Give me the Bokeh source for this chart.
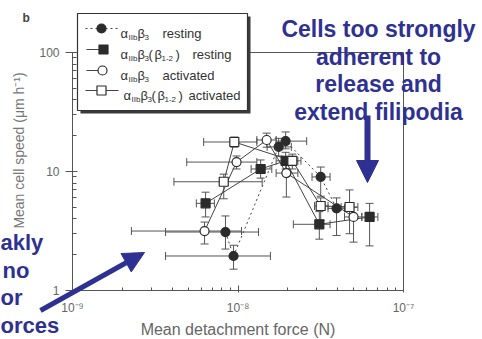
import math
from bokeh.plotting import figure
from bokeh.models import (ColumnDataSource, Whisker, TeeHead, Label, Arrow, NormalHead,
                          FixedTicker, CustomJSTickFormatter, Range1d)
from bokeh.embed import file_html
from bokeh.resources import INLINE

# ---------------- data ----------------
# alpha_IIb beta_3 resting (filled circles, dotted line)
r_force = [8.4e-9, 9.4e-9, 1.76e-8, 1.94e-8, 3.16e-8, 3.94e-8]
r_speed = [3.1, 1.95, 16.1, 18.0, 9.0, 4.9]
r_f_lo = [3.65e-9, 3.65e-9, 1.5e-8, 1.7e-8, 2.8e-8, 3.5e-8]
r_f_hi = [1.33e-8, 1.57e-8, 2.1e-8, 2.6e-8, 3.6e-8, 4.4e-8]
r_s_lo = [2.23, 1.51, 13.5, 15.5, 6.2, 2.9]
r_s_hi = [4.23, 2.4, 19.0, 21.5, 10.9, 6.0]

# alpha_IIb beta_3(beta_1-2) resting (filled squares)
rb_force = [6.37e-9, 1.37e-8, 1.94e-8, 3.1e-8, 6.24e-8]
rb_speed = [5.4, 10.5, 12.3, 3.6, 4.15]
rb_f_lo = [5.6e-9, 1.2e-8, 1.7e-8, 2.16e-8, 5.6e-8]
rb_f_hi = [7.2e-9, 1.6e-8, 2.3e-8, 3.6e-8, 7.0e-8]
rb_s_lo = [4.15, 8.8, 10.5, 2.7, 2.37]
rb_s_hi = [6.7, 12.5, 14.5, 4.6, 5.4]

# alpha_IIb beta_3 activated (open circles)
a_force = [6.28e-9, 9.8e-9, 1.49e-8, 1.96e-8, 4.99e-8]
a_speed = [3.16, 12.0, 18.4, 9.7, 4.15]
a_f_lo = [2.27e-9, 4.9e-9, 1.3e-8, 1.7e-8, 4.4e-8]
a_f_hi = [1.05e-8, 1.3e-8, 1.7e-8, 2.3e-8, 5.6e-8]
a_s_lo = [2.46, 10.5, 16.0, 6.1, 2.55]
a_s_hi = [3.76, 13.5, 21.0, 11.5, 5.0]

# alpha_IIb beta_3(beta_1-2) activated (open squares)
ab_force = [8.2e-9, 9.5e-9, 2.13e-8, 3.16e-8, 4.72e-8]
ab_speed = [8.2, 17.7, 12.3, 5.13, 5.03]
ab_f_lo = [4.1e-9, 6.2e-9, 1.9e-8, 2.9e-8, 4.2e-8]
ab_f_hi = [1.4e-8, 1.3e-8, 2.4e-8, 3.5e-8, 5.3e-8]
ab_s_lo = [5.9, 16.0, 10.5, 3.9, 3.0]
ab_s_hi = [9.5, 19.5, 14.0, 6.0, 7.0]

x_ticks = [1e-9, 1e-8, 1e-7]
x_tick_labels = ["10\u207b\u2079", "10\u207b\u2078", "10\u207b\u2077"]
y_ticks = [1, 10, 100]
y_tick_labels = ["1", "10", "100"]

x_title = "Mean detachment force (N)"
y_title = "Mean cell speed (\u03bcm h\u207b\u00b9)"
note_right = ["Cells too strongly", "adherent to", "release and", "extend filipodia"]
note_left = ["akly", "no", "or", "orces"]

# ---------------- layout geometry ----------------
W, H = 482, 339
FL, FB = 72, 290          # pixel position of the axes (x=1e-9, y=1)
XDEC = (403 - 72) / 2.0   # px per decade, x
YDEC = (290 - 52) / 2.0   # px per decade, y


def px2x(px):
    return 10 ** (-9 + (px - FL) / XDEC)


def px2y(py):
    return 10 ** ((FB - py) / YDEC)


BLUE = "#2E3192"
INK = "#2b2b2b"
GREY = "#666666"
FONT = "Liberation Sans"

p = figure(width=W, height=H, x_axis_type="log", y_axis_type="log",
           x_range=Range1d(px2x(0), px2x(W)), y_range=Range1d(px2y(H), px2y(0)),
           min_border_left=0, min_border_right=0, min_border_top=0,
           min_border_bottom=0, toolbar_location=None,
           output_backend="svg", outline_line_color=None,
           background_fill_color="white", border_fill_color="white")
p.xgrid.visible = False
p.ygrid.visible = False

x_minor = [m * 10 ** e for e in (-9, -8) for m in range(2, 10)]
y_minor = [m * 10 ** e for e in (0, 1) for m in range(2, 10)]
fmt_code = """
for (let i = 0; i < tv.length; i++) {
  if (Math.abs(Math.log10(tick) - Math.log10(tv[i])) < 1e-6) return tl[i];
}
return "";
"""
p.xaxis.ticker = FixedTicker(ticks=x_ticks, minor_ticks=x_minor)
p.yaxis.ticker = FixedTicker(ticks=y_ticks, minor_ticks=y_minor)
p.xaxis.formatter = CustomJSTickFormatter(args=dict(tv=x_ticks, tl=x_tick_labels), code=fmt_code)
p.yaxis.formatter = CustomJSTickFormatter(args=dict(tv=y_ticks, tl=y_tick_labels), code=fmt_code)
p.xaxis.fixed_location = 1
p.yaxis.fixed_location = 1e-9

for ax in (p.xaxis, p.yaxis):
    ax.axis_line_color = "#555555"
    ax.major_tick_line_color = "#555555"
    ax.minor_tick_line_color = "#555555"
    ax.major_label_text_color = GREY
    ax.major_label_text_font = FONT
    ax.major_label_text_font_size = "12px"

p.xaxis.bounds = (1e-9, 1e-7)
p.yaxis.bounds = (1, 100)
p.xaxis.major_tick_in = 5
p.xaxis.major_tick_out = 2
p.xaxis.minor_tick_in = 3
p.xaxis.minor_tick_out = 0
p.xaxis.major_label_standoff = 8
p.xaxis.axis_label = x_title
p.xaxis.axis_label_text_font = FONT
p.xaxis.axis_label_text_font_style = "normal"
p.xaxis.axis_label_text_font_size = "16px"
p.xaxis.axis_label_text_color = GREY
p.xaxis.axis_label_standoff = 3

p.yaxis.major_tick_in = 5
p.yaxis.major_tick_out = 7
p.yaxis.minor_tick_in = 4
p.yaxis.minor_tick_out = 0
p.yaxis.major_label_standoff = 6

# frame top and right lines
p.line([1e-9, 1e-7, 1e-7], [100, 100, 1], line_color="#555555", line_width=1)

# ---------------- series ----------------
series = [
    (r_force, r_speed, r_f_lo, r_f_hi, r_s_lo, r_s_hi, "circle", INK, "2 3"),
    (rb_force, rb_speed, rb_f_lo, rb_f_hi, rb_s_lo, rb_s_hi, "square", INK, "solid"),
    (a_force, a_speed, a_f_lo, a_f_hi, a_s_lo, a_s_hi, "circle", "white", "solid"),
    (ab_force, ab_speed, ab_f_lo, ab_f_hi, ab_s_lo, ab_s_hi, "square", "white", "solid"),
]

for f, s, flo, fhi, slo, shi, mk, fill, dash in series:
    src = ColumnDataSource(dict(f=f, s=s, flo=flo, fhi=fhi, slo=slo, shi=shi))
    p.add_layout(Whisker(source=src, base="s", lower="flo", upper="fhi", dimension="width",
                         line_color="#555555", line_width=1, level="underlay",
                         upper_head=TeeHead(size=8, line_color="#555555", line_width=1),
                         lower_head=TeeHead(size=8, line_color="#555555", line_width=1)))
    p.add_layout(Whisker(source=src, base="f", lower="slo", upper="shi", dimension="height",
                         line_color="#555555", line_width=1, level="underlay",
                         upper_head=TeeHead(size=8, line_color="#555555", line_width=1),
                         lower_head=TeeHead(size=8, line_color="#555555", line_width=1)))
    p.line("f", "s", source=src, line_color="#444444", line_width=1, line_dash=dash)

for f, s, flo, fhi, slo, shi, mk, fill, dash in series:
    p.scatter(f, s, marker=mk, size=9, fill_color=fill, line_color=INK, line_width=1.2)

# ---------------- legend (drawn by hand for subscripts) ----------------
p.quad(left=px2x(80), right=px2x(250), top=px2y(16), bottom=px2y(113),
       fill_color="#3a3a3a", line_color=None)
p.quad(left=px2x(77), right=px2x(247), top=px2y(13), bottom=px2y(110),
       fill_color="white", line_color="#333333", line_width=1.2)

rows_y = [28, 49, 70, 90]
leg_lines = [(85, 117, "2 3"), (86, 100, "solid"), (86, 98, "solid"), (85, 118, "solid")]
leg_mark = [(101, "circle", INK), (103, "square", INK), (102, "circle", "white"), (101, "square", "white")]
for ry, (x0, x1, dash), (mx, mk, fill) in zip(rows_y, leg_lines, leg_mark):
    p.line([px2x(x0), px2x(x1)], [px2y(ry), px2y(ry)], line_color="#444444", line_width=1, line_dash=dash)
    p.scatter([px2x(mx)], [px2y(ry)], marker=mk, size=9, fill_color=fill, line_color=INK, line_width=1.2)

leg_text = [
    [("\u03b1", 120, 0), ("IIb", 128, 1), ("\u03b2", 137, 0), ("3", 144, 1), ("resting", 162, 0)],
    [("\u03b1", 120, 0), ("IIb", 128, 1), ("\u03b2", 137, 0), ("3", 144, 1), ("(", 148, 0),
     ("\u03b2", 154, 0), ("1-2", 161, 1), (")", 175, 0), ("resting", 192, 0)],
    [("\u03b1", 120, 0), ("IIb", 128, 1), ("\u03b2", 137, 0), ("3", 144, 1), ("activated", 162, 0)],
    [("\u03b1", 123, 0), ("IIb", 131, 1), ("\u03b2", 140, 0), ("3", 147, 1), ("(", 151, 0),
     ("\u03b2", 157, 0), ("1-2", 164, 1), (")", 178, 0), ("activated", 188, 0)],
]
for ry, pieces in zip(rows_y, leg_text):
    for txt, tx, sub in pieces:
        p.add_layout(Label(x=px2x(tx), y=px2y(ry + (9 if sub else 5)), text=txt,
                           text_font=FONT, text_font_size="8px" if sub else "13px",
                           text_color="#333333", text_baseline="alphabetic", text_align="left"))

# panel letter
p.add_layout(Label(x=px2x(22), y=px2y(17), text="b", text_font=FONT, text_font_size="12px",
                   text_font_style="bold", text_color="#444444", text_baseline="alphabetic"))

# y axis title
p.add_layout(Label(x=px2x(18), y=px2y(150), text=y_title, angle=math.pi / 2,
                   text_font=FONT, text_font_size="14px", text_color="#777777",
                   text_align="center", text_baseline="middle"))

# ---------------- blue annotations ----------------
for line, by in zip(note_right, [28, 56, 83, 111]):
    p.add_layout(Label(x=px2x(378), y=px2y(by), text=line, text_font=FONT, text_font_size="23px",
                       text_font_style="bold", text_color=BLUE, text_align="center",
                       text_baseline="alphabetic"))
for line, lx, by in zip(note_left, [0, 2, 0, 0], [242, 270, 297, 325]):
    p.add_layout(Label(x=px2x(lx), y=px2y(by), text=line, text_font=FONT, text_font_size="22px",
                       text_font_style="bold", text_color=BLUE, text_align="left",
                       text_baseline="alphabetic"))

p.add_layout(Arrow(x_start=px2x(367), y_start=px2y(115), x_end=px2x(367), y_end=px2y(182),
                   line_color=BLUE, line_width=6,
                   end=NormalHead(size=22, fill_color=BLUE, line_color=BLUE)))
p.add_layout(Arrow(x_start=px2x(40), y_start=px2y(310), x_end=px2x(144), y_end=px2y(252),
                   line_color=BLUE, line_width=5,
                   end=NormalHead(size=21, fill_color=BLUE, line_color=BLUE)))

open("out.html", "w").write(file_html(p, INLINE))
